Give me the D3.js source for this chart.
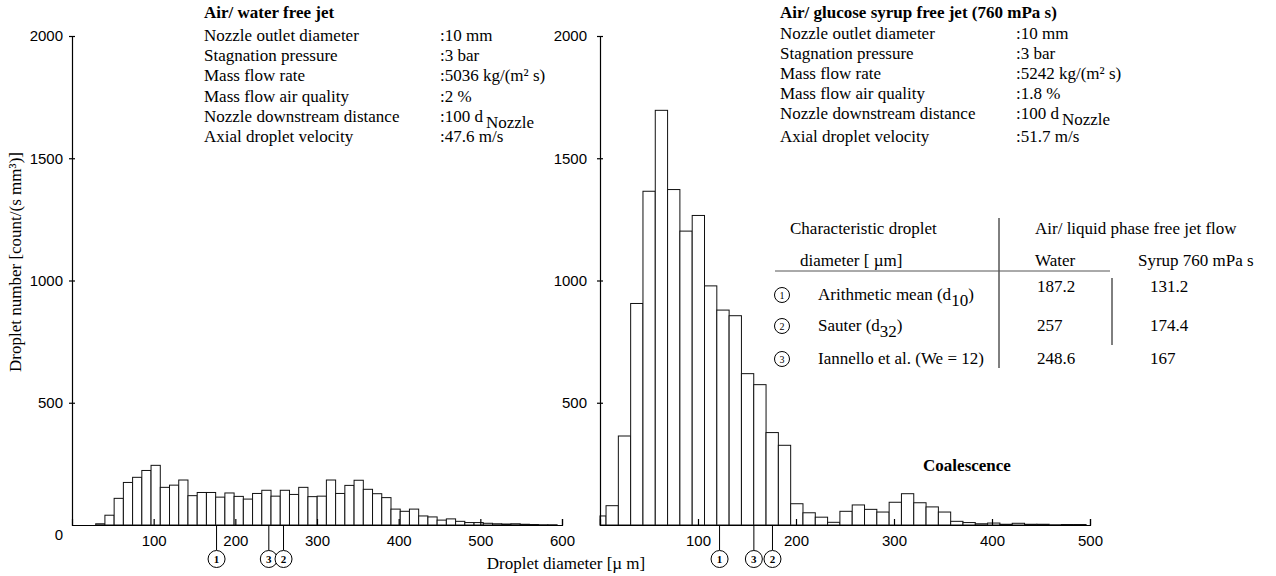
<!DOCTYPE html>
<html>
<head>
<meta charset="utf-8">
<script src="https://cdn.jsdelivr.net/npm/d3@7/dist/d3.min.js"></script>
<style>
  body { margin: 0; background: #fff; }
  svg text { fill: #000; }
  .serif { font-family: "Liberation Serif", "Times New Roman", serif; font-size: 17px; }
  .bold { font-weight: bold; }
</style>
</head>
<body>
<svg id="chart" width="1276" height="576"></svg>
<script>
// droplet number histograms [count/(s mm³)]
const waterCounts = [5, 40, 109, 174, 195, 223, 244, 154, 163, 184, 120, 133, 133, 114, 131,
  117, 106, 129, 142, 118, 142, 125, 154, 116, 118, 184, 129, 162, 183, 146, 128, 112, 65,
  56, 65, 37, 33, 20, 25, 15, 10, 10, 7, 5, 4, 5, 3, 2, 1, 1];
const syrupCounts = [37, 79, 364, 906, 1365, 1696, 1372, 1202, 1266, 978, 879, 856, 619, 574,
  378, 326, 87, 50, 32, 11, 56, 82, 64, 53, 93, 128, 91, 74, 53, 15, 10, 5, 8, 3, 7, 3, 3, 1, 2, 2];

// bin layout in µm
const waterBinStart = 29, waterBinWidth = 11.3;
const syrupBinStart = -6.4, syrupBinWidth = 12.56;

const waterTicks = [100, 200, 300, 400, 500, 600];
const syrupTicks = [100, 200, 300, 400, 500];
const yTicks = [500, 1000, 1500, 2000];

// characteristic diameter markers under the axes
const waterMarks = [{ id: "1", d: 177 }, { id: "3", d: 241 }, { id: "2", d: 259 }];
const syrupMarks = [{ id: "1", d: 122 }, { id: "3", d: 157 }, { id: "2", d: 176 }];

// jet parameters
const paramLabels = ["Nozzle outlet diameter", "Stagnation pressure", "Mass flow rate",
  "Mass flow air quality", "Nozzle downstream distance", "Axial droplet velocity"];
const waterParams = [":10 mm", ":3 bar", ":5036 kg/(m² s)", ":2 %", ":100 d", ":47.6 m/s"];
const syrupParams = [":10 mm", ":3 bar", ":5242 kg/(m² s)", ":1.8 %", ":100 d", " :51.7 m/s"];

// table of characteristic diameters
const tableIds = ["1", "2", "3"];
const tableNames = ["Arithmetic mean (d", "Sauter  (d", "Iannello et al. (We = 12)"];
const tableSubs = ["10", "32", ""];
const waterDiam = ["187.2", "257", "248.6"];
const syrupDiam = ["131.2", "174.4", "167"];

const svg = d3.select("#chart");

const y = d3.scaleLinear().domain([0, 2000]).range([525, 36]);
const xWater = d3.scaleLinear().domain([0, 600]).range([72, 562]);
const xSyrup = d3.scaleLinear().domain([0, 500]).range([600, 1090]);

function histogram(x, counts, start, width, ticks, marks, labelGap) {
  const g = svg.append("g");

  g.selectAll("rect")
    .data(counts)
    .join("rect")
    .attr("x", (d, i) => x(Math.max(0, start + i * width)))
    .attr("width", (d, i) => x(start + (i + 1) * width) - x(Math.max(0, start + i * width)))
    .attr("y", d => y(d))
    .attr("height", d => y(0) - y(d))
    .attr("fill", "#fff")
    .attr("stroke", "#111")
    .attr("stroke-width", 1);

  g.append("g")
    .attr("transform", `translate(0,${y(0)})`)
    .call(d3.axisBottom(x).tickValues(ticks).tickFormat(d3.format("d"))
      .tickSizeInner(-6).tickSizeOuter(-6).tickPadding(10));

  const left = x(0);
  g.append("g")
    .attr("transform", `translate(${left},0)`)
    .call(d3.axisLeft(y).tickValues(yTicks).tickFormat(d3.format("d"))
      .tickSizeInner(3).tickSizeOuter(0).tickPadding(labelGap));
  g.append("g")
    .attr("transform", `translate(${left},0)`)
    .call(d3.axisRight(y).tickValues(yTicks).tickSize(3).tickFormat(""))
    .select(".domain").remove();

  g.selectAll(".tick text")
    .attr("font-family", "'Liberation Sans', Arial, sans-serif")
    .attr("font-size", 15);
  g.selectAll(".domain, .tick line").attr("stroke", "#000").attr("stroke-width", 1.2);

  const m = g.selectAll(".mark").data(marks).join("g").attr("class", "mark");
  m.append("line")
    .attr("x1", d => x(d.d)).attr("x2", d => x(d.d))
    .attr("y1", y(0)).attr("y2", 550)
    .attr("stroke", "#000");
  m.append("circle")
    .attr("cx", d => x(d.d)).attr("cy", 559).attr("r", 8.5)
    .attr("fill", "#fff").attr("stroke", "#000");
  m.append("text")
    .attr("x", d => x(d.d)).attr("y", 563)
    .attr("text-anchor", "middle")
    .attr("class", "serif bold")
    .style("font-size", "11px")
    .text(d => d.id);
}

histogram(xWater, waterCounts, waterBinStart, waterBinWidth, waterTicks, waterMarks, 6);
histogram(xSyrup, syrupCounts, syrupBinStart, syrupBinWidth, syrupTicks, syrupMarks, 10);

svg.append("text")
  .attr("x", 63).attr("y", 540)
  .attr("text-anchor", "end")
  .attr("font-family", "'Liberation Sans', Arial, sans-serif")
  .attr("font-size", 15)
  .text("0");

// axis titles
svg.append("text")
  .attr("class", "serif")
  .attr("transform", "translate(21,262) rotate(-90)")
  .attr("text-anchor", "middle")
  .text("Droplet number [count/(s mm³)]");

svg.append("text")
  .attr("class", "serif")
  .attr("x", 566).attr("y", 569)
  .attr("text-anchor", "middle")
  .text("Droplet diameter [µ m]");

svg.append("text")
  .attr("class", "serif bold")
  .attr("x", 967).attr("y", 471)
  .attr("text-anchor", "middle")
  .text("Coalescence");

// parameter blocks
function paramBlock(x0, x1, rows, title, values) {
  const g = svg.append("g").attr("class", "serif");
  g.append("text").attr("class", "bold").attr("x", x0).attr("y", 18).text(title);
  paramLabels.forEach((t, i) => {
    g.append("text").attr("x", x0).attr("y", rows[i] + 6).text(t);
    const v = g.append("text").attr("x", x1).attr("y", rows[i] + 6).text(values[i]);
    if (i === 4) v.append("tspan").attr("dx", 3).attr("dy", 6).text("Nozzle");
  });
}

paramBlock(204, 440, [35, 55, 75, 96, 116, 136], "Air/ water free jet", waterParams);
paramBlock(780, 1016, [33, 53, 73, 93, 113, 136], "Air/ glucose syrup free jet (760 mPa s)", syrupParams);

// table
const tg = svg.append("g").attr("class", "serif");
tg.append("text").attr("x", 790).attr("y", 234).text("Characteristic droplet");
tg.append("text").attr("x", 800).attr("y", 266).text("diameter [ µm]");
tg.append("text").attr("x", 1035).attr("y", 234).text("Air/ liquid phase free jet flow");
tg.append("text").attr("x", 1035).attr("y", 266).text("Water");
tg.append("text").attr("x", 1138).attr("y", 266).text("Syrup 760 mPa s");

tg.append("line").attr("x1", 999).attr("x2", 999).attr("y1", 218).attr("y2", 368).attr("stroke", "#000");
tg.append("line").attr("x1", 775).attr("x2", 1110).attr("y1", 271).attr("y2", 271).attr("stroke", "#555");
tg.append("line").attr("x1", 1112).attr("x2", 1112).attr("y1", 278).attr("y2", 345).attr("stroke", "#000");

const tableRowY = [295, 326, 359];
tableIds.forEach((id, i) => {
  const cy = tableRowY[i];
  tg.append("circle").attr("cx", 782).attr("cy", cy).attr("r", 7.5)
    .attr("fill", "#fff").attr("stroke", "#000");
  tg.append("text").attr("x", 782).attr("y", cy + 3.5).attr("text-anchor", "middle")
    .style("font-size", "10px").text(id);
  const t = tg.append("text").attr("x", 818).attr("y", cy + 5).text(tableNames[i]);
  if (tableSubs[i]) {
    t.append("tspan").attr("dy", 6).text(tableSubs[i]);
    t.append("tspan").attr("dy", -6).text(")");
  }
  const vy = i === 0 ? cy - 3 : cy + 5;
  tg.append("text").attr("x", 1037).attr("y", vy).text(waterDiam[i]);
  tg.append("text").attr("x", 1150).attr("y", vy).text(syrupDiam[i]);
});
</script>
</body>
</html>
